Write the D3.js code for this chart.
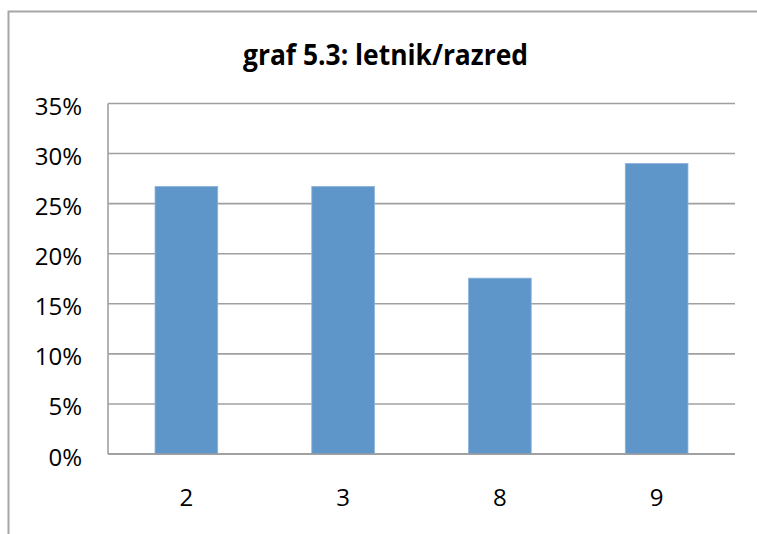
<!DOCTYPE html>
<html><head><meta charset="utf-8">
<script src="https://cdn.jsdelivr.net/npm/d3@7"></script>
<style>html,body{margin:0;padding:0;background:#fff;}svg{display:block;}</style>
</head><body>
<svg id="chart" width="757" height="534"></svg>
<script>
const categories = ["2", "3", "8", "9"];
const values = [0.2672, 0.2672, 0.1756, 0.2901];
const yTicks = [0, 0.05, 0.10, 0.15, 0.20, 0.25, 0.30, 0.35];
const title = "graf 5.3: letnik/razred";

const svg = d3.select("#chart");
const plotLeft = 108, plotRight = 735, plotTop = 103.5, plotBottom = 454;
const font = "'Open Sans', 'Noto Sans', sans-serif";

// chart border (cropped: left and top only)
svg.append("path").attr("d", "M8.5,534 L8.5,11.5 L757,11.5")
  .attr("fill", "none").attr("stroke", "#a6a6a6").attr("stroke-width", 2);

const x = d3.scaleBand().domain(categories).range([plotLeft, plotRight]).paddingInner(0.6).paddingOuter(0.3);
const y = d3.scaleLinear().domain([0, 0.35]).range([plotBottom, plotTop]);

// gridlines
svg.append("g").selectAll("line").data(yTicks).join("line")
  .attr("x1", plotLeft).attr("x2", plotRight)
  .attr("y1", d => y(d)).attr("y2", d => y(d))
  .attr("stroke", "#a0a0a0").attr("stroke-width", 1.6);

// left axis line
svg.append("line").attr("x1", plotLeft).attr("x2", plotLeft).attr("y1", plotTop).attr("y2", plotBottom)
  .attr("stroke", "#a0a0a0").attr("stroke-width", 1.6);

// bars
svg.append("g").selectAll("rect").data(values).join("rect")
  .attr("x", (d, i) => x(categories[i]))
  .attr("width", x.bandwidth())
  .attr("y", d => y(d))
  .attr("height", d => plotBottom - y(d))
  .attr("fill", "#5f96ca")
  .attr("stroke", "#8db4dc").attr("stroke-width", 0.8);

// bottom axis line on top of bars
svg.append("line").attr("x1", plotLeft).attr("x2", plotRight).attr("y1", plotBottom).attr("y2", plotBottom)
  .attr("stroke", "#9a9a9a").attr("stroke-width", 1.6);

// y tick labels
svg.append("g").selectAll("text").data(yTicks).join("text")
  .attr("x", 82).attr("y", d => y(d) + 11.5)
  .attr("text-anchor", "end")
  .attr("font-family", font).attr("font-size", 24).attr("fill", "#000")
  .text(d => d3.format(".0%")(d));

// x labels
svg.append("g").selectAll("text").data(categories).join("text")
  .attr("x", d => x(d) + x.bandwidth() / 2).attr("y", 506)
  .attr("text-anchor", "middle")
  .attr("font-family", font).attr("font-size", 24).attr("fill", "#000")
  .text(d => d);

// title
svg.append("text").attr("x", 385.5).attr("y", 65)
  .attr("text-anchor", "middle")
  .attr("font-family", font).attr("font-weight", "bold").attr("font-size", 28)
  .attr("textLength", 285).attr("lengthAdjust", "spacingAndGlyphs")
  .attr("fill", "#000")
  .text(title);
</script>
</body></html>
